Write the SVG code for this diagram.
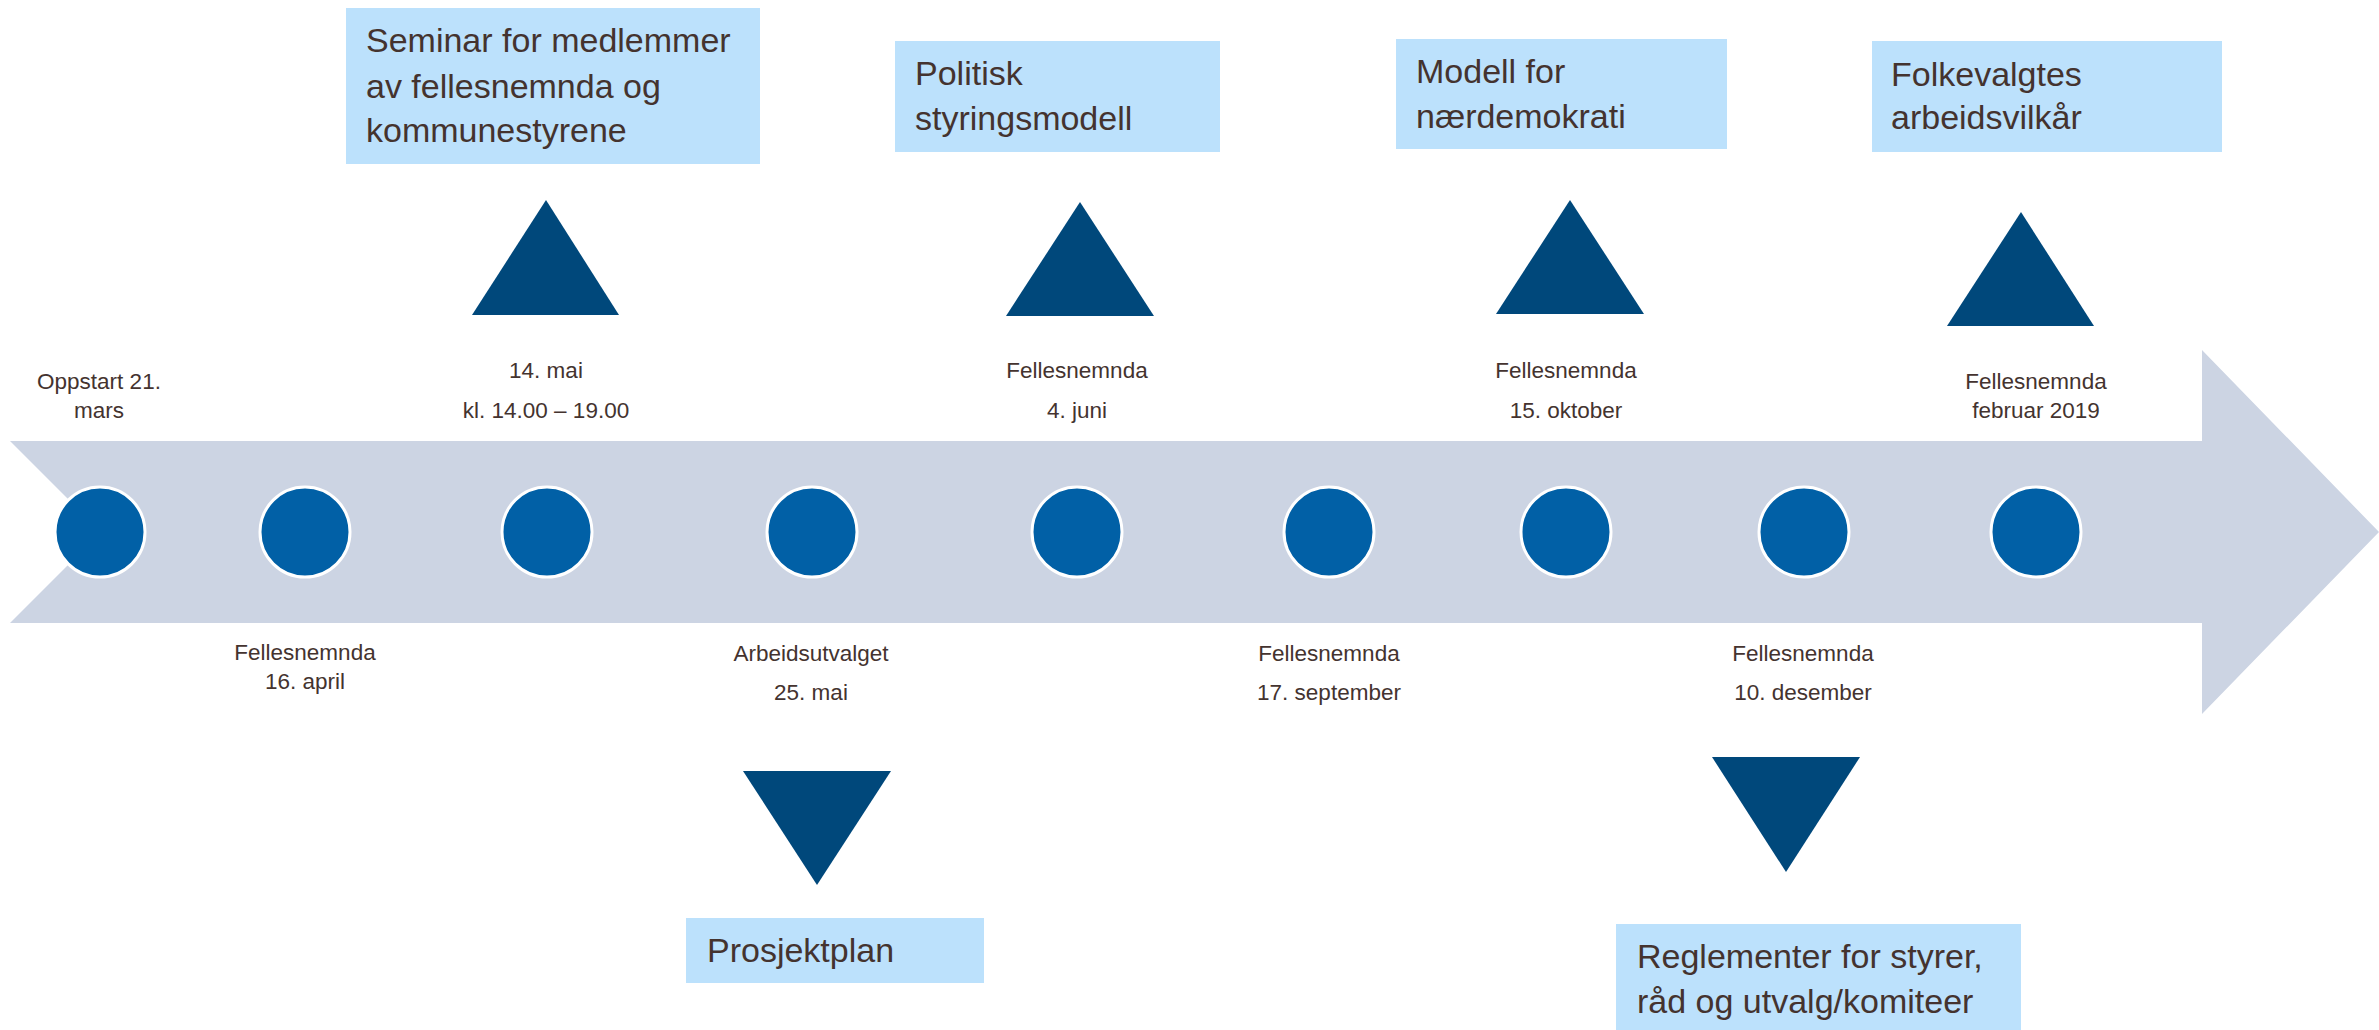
<svg xmlns="http://www.w3.org/2000/svg" width="2379" height="1030" viewBox="0 0 2379 1030">
<style>
.box{fill:#bce1fc}
.tri{fill:#00487b}
.dot{fill:#0160a6;stroke:#ffffff;stroke-width:3}
.big{font-family:"Liberation Sans",Arial,sans-serif;font-size:34px;fill:#44332f}
.small{font-family:"Liberation Sans",Arial,sans-serif;font-size:22.5px;fill:#44332f;text-anchor:middle}
</style>
<rect width="2379" height="1030" fill="#ffffff"/>
<g id="timeline">
<polygon points="10,441 2202,441 2202,350 2379,532 2202,714 2202,623 10,623 101,532" fill="#ccd4e3"/>
</g>
<g id="connectors">
<polygon class="tri" points="546,200 619,315 472,315"/>
<polygon class="tri" points="1080,202 1154,316 1006,316"/>
<polygon class="tri" points="1570,200 1644,314 1496,314"/>
<polygon class="tri" points="2021,212 2094,326 1947,326"/>
<polygon class="tri" points="743,771 891,771 817,885"/>
<polygon class="tri" points="1712,757 1860,757 1786,872"/>
</g>
<g id="dots">
<circle class="dot" cx="100" cy="532" r="45"/>
<circle class="dot" cx="305" cy="532" r="45"/>
<circle class="dot" cx="547" cy="532" r="45"/>
<circle class="dot" cx="812" cy="532" r="45"/>
<circle class="dot" cx="1077" cy="532" r="45"/>
<circle class="dot" cx="1329" cy="532" r="45"/>
<circle class="dot" cx="1566" cy="532" r="45"/>
<circle class="dot" cx="1804" cy="532" r="45"/>
<circle class="dot" cx="2036" cy="532" r="45"/>
</g>
<g id="node-seminar">
<rect class="box" x="346" y="8" width="414" height="156"/>
<text class="big" x="366" y="52">Seminar for medlemmer</text>
<text class="big" x="366" y="98">av fellesnemnda og</text>
<text class="big" x="366" y="142">kommunestyrene</text>
</g>
<g id="node-politisk">
<rect class="box" x="895" y="41" width="325" height="111"/>
<text class="big" x="915" y="85">Politisk</text>
<text class="big" x="915" y="130">styringsmodell</text>
</g>
<g id="node-modell">
<rect class="box" x="1396" y="39" width="331" height="110"/>
<text class="big" x="1416" y="83">Modell for</text>
<text class="big" x="1416" y="128">nærdemokrati</text>
</g>
<g id="node-folkevalgtes">
<rect class="box" x="1872" y="41" width="350" height="111"/>
<text class="big" x="1891" y="86">Folkevalgtes</text>
<text class="big" x="1891" y="129">arbeidsvilkår</text>
</g>
<g id="node-prosjektplan">
<rect class="box" x="686" y="918" width="298" height="65"/>
<text class="big" x="707" y="962">Prosjektplan</text>
</g>
<g id="node-reglementer">
<rect class="box" x="1616" y="924" width="405" height="106"/>
<text class="big" x="1637" y="968">Reglementer for styrer,</text>
<text class="big" x="1637" y="1013">råd og utvalg/komiteer</text>
</g>
<g id="label-oppstart">
<text class="small" x="99" y="389">Oppstart 21.</text>
<text class="small" x="99" y="418">mars</text>
</g>
<g id="label-april">
<text class="small" x="305" y="660">Fellesnemnda</text>
<text class="small" x="305" y="689">16. april</text>
</g>
<g id="label-14mai">
<text class="small" x="546" y="378">14. mai</text>
<text class="small" x="546" y="418">kl. 14.00 – 19.00</text>
</g>
<g id="label-25mai">
<text class="small" x="811" y="661">Arbeidsutvalget</text>
<text class="small" x="811" y="700">25. mai</text>
</g>
<g id="label-juni">
<text class="small" x="1077" y="378">Fellesnemnda</text>
<text class="small" x="1077" y="418">4. juni</text>
</g>
<g id="label-september">
<text class="small" x="1329" y="661">Fellesnemnda</text>
<text class="small" x="1329" y="700">17. september</text>
</g>
<g id="label-oktober">
<text class="small" x="1566" y="378">Fellesnemnda</text>
<text class="small" x="1566" y="418">15. oktober</text>
</g>
<g id="label-desember">
<text class="small" x="1803" y="661">Fellesnemnda</text>
<text class="small" x="1803" y="700">10. desember</text>
</g>
<g id="label-februar">
<text class="small" x="2036" y="389">Fellesnemnda</text>
<text class="small" x="2036" y="418">februar 2019</text>
</g>
</svg>
